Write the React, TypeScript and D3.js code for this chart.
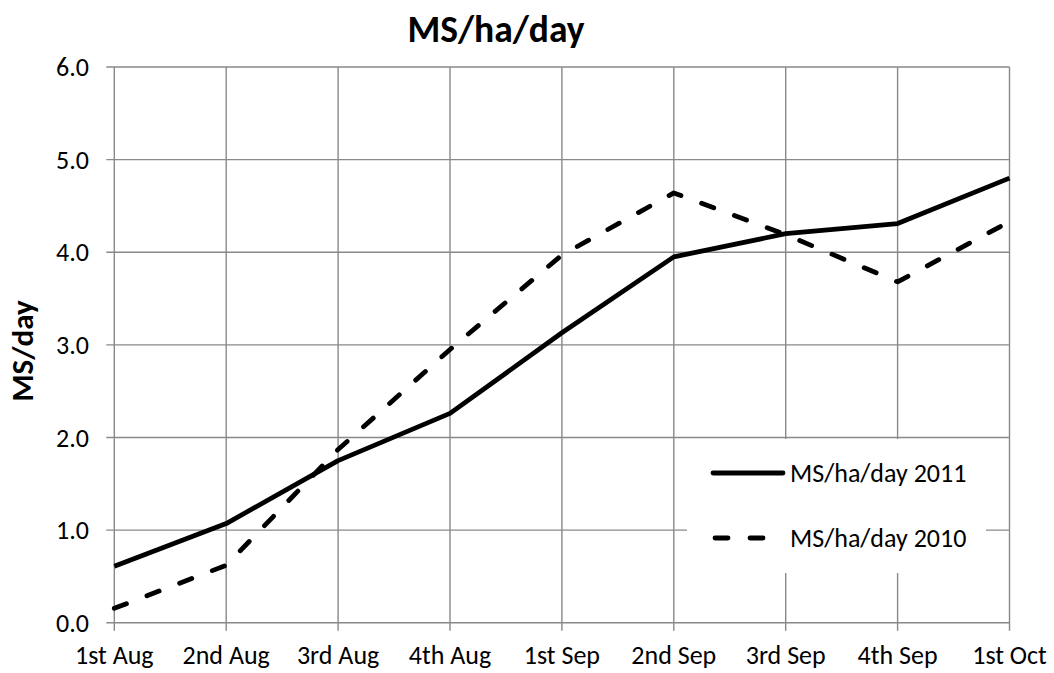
import React from "react";
import * as d3 from "d3";

const categories = ["1st Aug", "2nd Aug", "3rd Aug", "4th Aug", "1st Sep", "2nd Sep", "3rd Sep", "4th Sep", "1st Oct"];
const series2011 = [0.61, 1.07, 1.75, 2.26, 3.13, 3.95, 4.2, 4.31, 4.8];
const series2010 = [0.155, 0.62, 1.87, 2.95, 3.97, 4.64, 4.19, 3.68, 4.33];
const yTicks = [0, 1, 2, 3, 4, 5, 6];
const title = "MS/ha/day";
const yLabel = "MS/day";
const legendLabels = ["MS/ha/day 2011", "MS/ha/day 2010"];

const W = 1054;
const H = 673;
const left = 114.3;
const right = 1009.5;
const top = 67;
const bottom = 622.7;
const font = "Carlito, Calibri, Lato, 'Open Sans', sans-serif";
const grid = "#898989";
const fs = 26;

export default function App() {
  const x = d3.scalePoint<string>().domain(categories).range([left, right]);
  const y = d3.scaleLinear().domain([0, 6]).range([bottom, top]);
  const line = d3
    .line<number>()
    .x((_, i) => x(categories[i]) as number)
    .y((d) => y(d));

  const lg = { x0: 687, x1: 986, y0: 439, y1: 573 };

  return (
    <svg
      width={W}
      height={H}
      style={{ position: "absolute", left: 0, top: 0, background: "#fff" }}
      fontFamily={font}
    >
      <rect x={0} y={0} width={W} height={H} fill="#fff" />
      {yTicks.map((t) => (
        <line key={"h" + t} x1={left - 8} x2={right} y1={y(t)} y2={y(t)} stroke={grid} strokeWidth={1.4} />
      ))}
      {categories.map((c) => (
        <line key={"v" + c} x1={x(c)} x2={x(c)} y1={top} y2={bottom + 8} stroke={grid} strokeWidth={1.4} />
      ))}
      {yTicks.map((t) => (
        <text key={"yt" + t} x={89} y={y(t)} dy="0.35em" textAnchor="end" fontSize={fs} fill="#000">
          {t.toFixed(1)}
        </text>
      ))}
      {categories.map((c) => (
        <text key={"xt" + c} x={x(c)} y={664} textAnchor="middle" fontSize={fs} fill="#000">
          {c}
        </text>
      ))}
      <text x={496} y={41.5} textAnchor="middle" fontSize={37.5} fontWeight="bold" fill="#000">
        {title}
      </text>
      <text
        transform={`translate(33,351) rotate(-90)`}
        textAnchor="middle"
        fontSize={31}
        fontWeight="bold"
        fill="#000"
      >
        {yLabel}
      </text>
      <path d={line(series2010) || ""} fill="none" stroke="#000" strokeWidth={4.8} strokeDasharray="13 22" strokeLinecap="round" strokeLinejoin="round" />
      <path d={line(series2011) || ""} fill="none" stroke="#000" strokeWidth={4.8} strokeLinejoin="round" />
      <rect x={lg.x0} y={lg.y0} width={lg.x1 - lg.x0} height={lg.y1 - lg.y0} fill="#fff" />
      <line x1={713} x2={783} y1={473} y2={473} stroke="#000" strokeWidth={4.8} strokeLinecap="round" />
      <text x={790} y={473} dy="0.35em" fontSize={fs} fill="#000">
        {legendLabels[0]}
      </text>
      <line x1={715} x2={767} y1={538} y2={538} stroke="#000" strokeWidth={4.8} strokeLinecap="round" strokeDasharray="13 22" />
      <text x={790} y={538} dy="0.35em" fontSize={fs} fill="#000">
        {legendLabels[1]}
      </text>
    </svg>
  );
}
